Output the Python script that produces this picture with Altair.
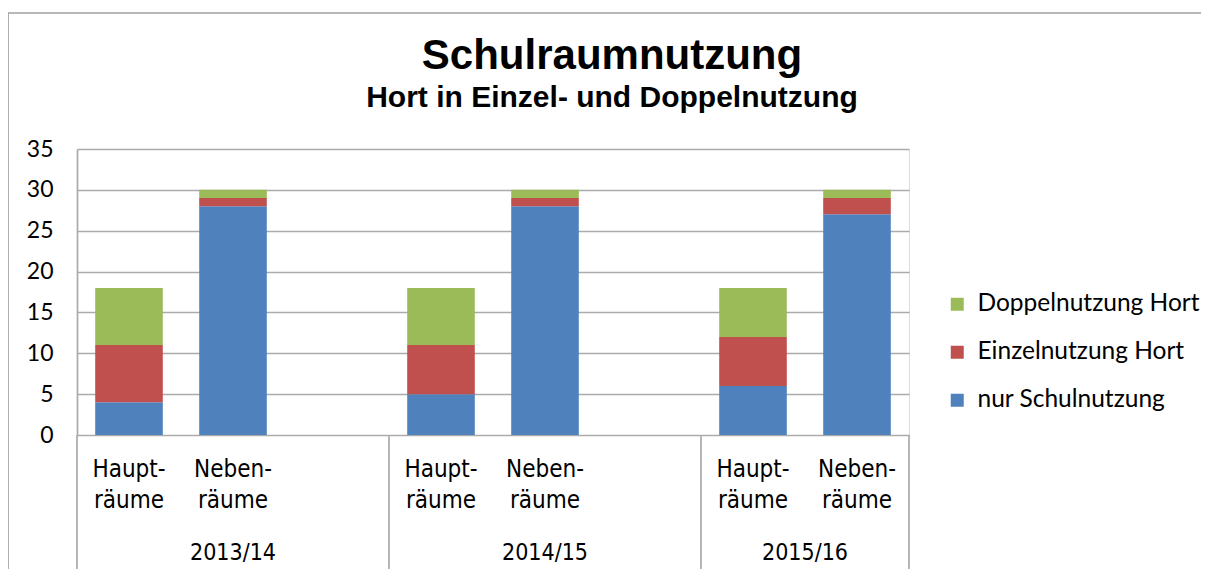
import altair as alt
import pandas as pd

# ---- data ----
title_text = "Schulraumnutzung"
subtitle_text = "Hort in Einzel- und Doppelnutzung"
years = ["2013/14", "2014/15", "2015/16"]
room_keys = ["H", "N"]
room_labels = ["Haupt-\nräume", "Neben-\nräume"]
series_names = ["nur Schulnutzung", "Einzelnutzung Hort", "Doppelnutzung Hort"]
series_colors = ["#4F81BD", "#C0504D", "#9BBB59"]
legend_order = ["Doppelnutzung Hort", "Einzelnutzung Hort", "nur Schulnutzung"]
# values per bar: 2013/14 H, N, 2014/15 H, N, 2015/16 H, N
nur_schul = [4, 28, 5, 28, 6, 27]
einzel = [7, 1, 6, 1, 6, 2]
doppel = [7, 1, 7, 1, 6, 1]
y_ticks = [0, 5, 10, 15, 20, 25, 30, 35]

# ---- build tables ----
slot_domain = []
for i, yr in enumerate(years):
    slot_domain += [f"{yr} {k}" for k in room_keys]
    if i < len(years) - 1:
        slot_domain.append(f"{yr} gap")

series_values = [nur_schul, einzel, doppel]
bar_rows, label_rows = [], []
for yi, yr in enumerate(years):
    for ri, rk in enumerate(room_keys):
        idx = yi * len(room_keys) + ri
        slot = f"{yr} {rk}"
        label_rows.append({"slot": slot, "label": room_labels[ri]})
        for si, sname in enumerate(series_names):
            bar_rows.append({"slot": slot, "series": sname,
                             "value": series_values[si][idx], "rank": si})
bars_df = pd.DataFrame(bar_rows)
labels_df = pd.DataFrame(label_rows)

# year labels: centre of group (middle slot for 3-slot groups, boundary for 2-slot group)
year_mid_df = pd.DataFrame({"slot": [f"{yr} N" for yr in years[:-1]], "label": years[:-1]})
year_last_df = pd.DataFrame({"slot": [f"{years[-1]} N"], "label": [years[-1]]})
div_start_df = pd.DataFrame({"slot": [f"{yr} H" for yr in years]})
div_end_df = pd.DataFrame({"slot": [f"{years[-1]} N"]})
one = pd.DataFrame({"k": [0]})
title_df = pd.DataFrame({"t": [title_text]})
subtitle_df = pd.DataFrame({"t": [subtitle_text]})

GRID = "#ABABAB"
NARROW = "Liberation Sans Narrow, DejaVu Sans Condensed, Liberation Sans, sans-serif"
xscale = alt.Scale(domain=slot_domain, type="band", paddingInner=0, paddingOuter=0)


def X(bp=None):
    if bp is None:
        return alt.X("slot:N", scale=xscale, axis=None)
    return alt.X("slot:N", scale=xscale, axis=None, bandPosition=bp)


bars = alt.Chart(bars_df).mark_bar(width=alt.RelativeBandSize(0.65)).encode(
    x=X(),
    y=alt.Y("sum(value):Q", stack="zero",
            scale=alt.Scale(domain=[0, 35], nice=False),
            axis=alt.Axis(values=y_ticks, title=None, grid=True, gridColor=GRID,
                          gridWidth=1.7, domainColor=GRID, domainWidth=1.7,
                          ticks=False, labelFont="Lato", labelFontSize=23,
                          labelColor="black", labelPadding=24)),
    color=alt.Color("series:N",
                    scale=alt.Scale(domain=legend_order,
                                    range=[series_colors[2], series_colors[1], series_colors[0]]),
                    legend=alt.Legend(title=None, orient="none", legendX=868, legendY=143,
                                      symbolType="square", symbolSize=169,
                                      symbolStrokeWidth=0, labelFont="Lato",
                                      labelFontSize=24.5, labelColor="black",
                                      labelLimit=400, labelOffset=8,
                                      rowPadding=23, padding=0)),
    order=alt.Order("rank:Q"),
)

sub_labels = alt.Chart(labels_df).mark_text(
    font=NARROW, fontSize=24, lineBreak="\n", lineHeight=31,
    align="center", baseline="top", color="black"
).encode(x=X(), y=alt.value(309), text="label:N")

year_mid = alt.Chart(year_mid_df).mark_text(
    font=NARROW, fontSize=23, align="center", baseline="alphabetic", color="black"
).encode(x=X(0.5), y=alt.value(411), text="label:N")

year_last = alt.Chart(year_last_df).mark_text(
    font=NARROW, fontSize=23, align="center", baseline="alphabetic", color="black"
).encode(x=X(0), y=alt.value(411), text="label:N")

div_start = alt.Chart(div_start_df).mark_rule(color=GRID, strokeWidth=1.7).encode(
    x=X(0), y=alt.value(286), y2=alt.value(440))
div_end = alt.Chart(div_end_df).mark_rule(color=GRID, strokeWidth=1.7).encode(
    x=X(1), y=alt.value(286), y2=alt.value(440))

frame_left = alt.Chart(one).mark_rule(color="#A0A0A0", strokeWidth=1.7).encode(
    x=alt.value(-69), y=alt.value(-136), y2=alt.value(440))
frame_top = alt.Chart(one).mark_rule(color="#A0A0A0", strokeWidth=1.7).encode(
    x=alt.value(-69), x2=alt.value(1124), y=alt.value(-136))

title_mark = alt.Chart(title_df).mark_text(
    font="Liberation Sans", fontSize=42, fontWeight="bold", color="black",
    align="center", baseline="alphabetic"
).encode(x=alt.value(535), y=alt.value(-80), text="t:N")
subtitle_mark = alt.Chart(subtitle_df).mark_text(
    font="Liberation Sans", fontSize=30, fontWeight="bold", color="black",
    align="center", baseline="alphabetic"
).encode(x=alt.value(535), y=alt.value(-42), text="t:N")

chart = alt.layer(
    frame_left, frame_top, bars, div_start, div_end, sub_labels, year_mid, year_last,
    title_mark, subtitle_mark
).properties(
    width=832, height=286,
    autosize=alt.AutoSizeParams(type="none"),
    padding={"left": 69, "top": 141, "right": 292, "bottom": 134},
).configure_view(stroke=None).configure(background="white")

chart.save("out.html", embed_options={"renderer": "svg", "actions": False})
